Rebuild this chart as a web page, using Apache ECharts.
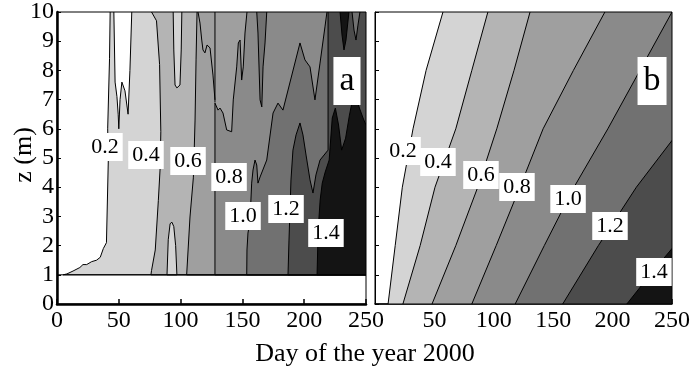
<!DOCTYPE html>
<html>
<head>
<meta charset="utf-8">
<script src="https://cdn.jsdelivr.net/npm/echarts@6.0.0/dist/echarts.min.js"></script>
<style>
  html, body { margin: 0; padding: 0; background: #fff; }
  #chart { width: 698px; height: 368px; }
</style>
</head>
<body>
<div id="chart"></div>
<script>
// Contour levels and their fill shades (value >= level gets the shade)
const LEVELS = [0.2, 0.4, 0.6, 0.8, 1.0, 1.2, 1.4];
const SHADES = ['#d4d4d4', '#b4b4b4', '#9f9f9f', '#8a8a8a', '#717171', '#4c4c4c', '#141414'];

// Panel a: measured field, contour lines as [day, z] from top (z = 10) down to z = 1
const A_C02 = [[43,10],[42.5,8.4],[41,6],[41.5,4.9],[40,2.1],[37.5,1.9],[35,1.6],[32,1.5],[28,1.45],[24,1.35],[21,1.35],[18.5,1.25],[13,1.13],[8,1.03],[5,1]];
const A_C04 = [[76.5,10],[80.5,9.7],[83,8.2],[84,5.9],[83.5,4.7],[82,3.55],[79.5,1.85],[76.5,1.15],[76,1]];
const A_C06 = [[113.3,10],[112.5,8.36],[111.7,6.3],[110.8,4.93],[110.3,4.32],[107.6,2.98],[104.9,1]];
const A_C08 = [[153.7,10],[152.1,9.28],[150.7,8.12],[149.4,7.67],[148.1,9.04],[146.7,8.94],[145.4,8.12],[142.6,6.99],[141.3,5.9],[137.3,5.96],[134.3,6.54],[131.9,6.71],[130.3,6.64],[127.8,6.88],[127.8,1]];
const A_C10 = [[218.4,10],[216.8,9.49],[212.8,8.25],[208.7,6.99],[204.7,8.12],[200.6,8.36],[196.6,8.94],[182.8,6.64],[178.8,6.88],[174.8,6.54],[169.7,4.93],[164.3,4.35],[162.6,4.14],[161.6,4.76],[160.2,4.93],[158.6,4.59],[157.5,4.14],[156.1,2.81],[154.5,2.43],[153.7,1.85],[153.5,1]];
const A_C12 = [[219.3,10],[219.3,5.27],[212.8,4.93],[209.5,4.42],[207.1,3.8],[204.7,4.25],[201.5,5.1],[199,5.79],[196.6,6.2],[193.4,5.79],[190.9,5.27],[189.3,4.25],[188.5,3.22],[187.7,2.19],[186.9,1]];
const A_C14 = [[250,6.13],[247.6,6.37],[244.7,6.71],[241.5,7.09],[239.1,6.99],[236.6,6.47],[233.5,5.68],[230.3,5.27],[227.8,6.13],[225.2,6.71],[222.7,6.37],[220.2,4.93],[217,4.52],[214.6,4.14],[212.9,3.56],[211.3,2.53],[210.4,1]];

// Panel a: closed pockets that differ from the band around them
const A_POCKETS = [
  { after: 0, shade: '#ffffff', pts: [[46,10],[47,7.6],[48.5,7.1],[49.5,6.5],[50,6],[51,7],[52.5,7.6],[55,7.3],[57.5,6.5],[59,8],[60.5,10]] },
  { after: 1, shade: SHADES[0], pts: [[94,10],[94.5,8.7],[95.5,7.5],[97,7.4],[99.5,7.5],[100.5,8.7],[101,10]] },
  { after: 1, shade: SHADES[0], pts: [[89,1],[90,2.2],[91.5,2.75],[93,2.8],[94.5,2.65],[96,2],[97,1]] },
  { after: 4, shade: SHADES[4], pts: [[161.6,10],[162.6,9.28],[164.3,6.99],[165.7,6.75],[166.7,8.12],[168.3,8.94],[169.7,10]] },
  { after: 5, shade: SHADES[4], pts: [[238.7,10],[240.3,9.38],[241.9,9.04],[243.5,9.55],[245.1,10]] },
  { after: 6, shade: SHADES[6], pts: [[229,10],[230.6,9.21],[232.2,8.7],[233.8,9.04],[236.2,10]] }
];
// Panel a: open contour strokes in the upper field
const A_STROKES = [
  [[114.1,10],[115.7,9.62],[117.1,9.04],[118.1,8.7],[119.7,8.6],[121.4,8.87],[123.8,8.77],[126.2,7.84],[127.8,6.99]],
  [[127.8,10],[127.8,6.9]]
];

// Panel b: modelled field, contour lines as [day, z]
const B_C02 = [[57.2,10],[43,8],[32,6],[23,4],[17,2],[11,0]];
const B_C04 = [[95,10],[81.5,8],[68,6],[50.5,4],[38,2],[23.5,0]];
const B_C06 = [[130.5,10],[117,8],[102.5,6],[86.5,4],[68,2],[48,0]];
const B_C08 = [[193.5,10],[167,8],[141.5,6],[122,4],[102,2],[81.5,0]];
const B_C10 = [[250,10],[223,8],[196,6],[167.5,4],[142.5,2],[118,0]];
const B_C12 = [[250,5.6],[220,4],[188,2],[158,0]];
const B_C14 = [[250,1.9],[231.5,1],[212,0]];

// Contour label anchors [day, z], one per level
const A_LABEL_POS = [[38.8,5.38],[72,5.1],[106,4.9],[139.2,4.35],[150.5,3.01],[185.3,3.25],[217.6,2.43]];
const B_LABEL_POS = [[23.6,5.24],[53,4.86],[89.2,4.42],[119.5,4.01],[162.5,3.6],[197.8,2.67],[234.8,1.1]];
const PANEL_TAGS = [{ text: 'a', pos: [234.6,7.64] }, { text: 'b', pos: [233.2,7.64] }];

const X_MAX = 250;
const SERIF = '"Liberation Serif", "DejaVu Serif", serif';

function polygonSeries(grid, pts, fill) {
  return {
    type: 'custom',
    coordinateSystem: 'cartesian2d',
    xAxisIndex: grid, yAxisIndex: grid,
    data: pts,
    encode: { x: 0, y: 1 },
    clip: true,
    silent: true,
    animation: false,
    renderItem: function (params, api) {
      if (params.dataIndex !== 0) return null;
      return {
        type: 'polygon',
        shape: { points: pts.map(function (p) { return api.coord(p); }) },
        style: { fill: fill, stroke: '#000', lineWidth: 1 }
      };
    }
  };
}

// Region at or above a level: contour line closed round the right-hand side of the panel
function bandSeries(grid, line, zBottom, fill) {
  const pts = line.concat([[X_MAX, zBottom]]);
  if (line[0][1] === 10) pts.push([X_MAX, 10]);
  return polygonSeries(grid, pts, fill);
}

function strokeSeries(grid, pts) {
  return {
    type: 'line', xAxisIndex: grid, yAxisIndex: grid, data: pts,
    showSymbol: false, silent: true, animation: false,
    lineStyle: { color: '#000', width: 1 }
  };
}

// White-boxed text placed at data coordinates
function labelSeries(grid, data, fontSize, padding) {
  return {
    type: 'custom',
    coordinateSystem: 'cartesian2d',
    xAxisIndex: grid, yAxisIndex: grid,
    data: data,
    encode: { x: 0, y: 1 },
    silent: true, animation: false, z: 10,
    renderItem: function (params, api) {
      const d = data[params.dataIndex];
      const c = api.coord([d[0], d[1]]);
      return {
        type: 'text', x: c[0], y: c[1],
        style: {
          text: d[2], fill: '#000', font: fontSize + 'px ' + SERIF,
          align: 'center', verticalAlign: 'middle',
          lineHeight: fontSize, backgroundColor: '#fff', padding: padding
        }
      };
    }
  };
}

const series = [];
const A_LINES = [A_C02, A_C04, A_C06, A_C08, A_C10, A_C12, A_C14];
const B_LINES = [B_C02, B_C04, B_C06, B_C08, B_C10, B_C12, B_C14];

// panel a bands, each followed by the pockets that sit inside it
A_LINES.forEach(function (line, i) {
  series.push(bandSeries(0, line, 1, SHADES[i]));
  A_POCKETS.filter(function (p) { return p.after === i; })
    .forEach(function (p) { series.push(polygonSeries(0, p.pts, p.shade)); });
});
A_STROKES.forEach(function (s) { series.push(strokeSeries(0, s)); });
// lower boundary of the measured field
series.push(strokeSeries(0, [[0, 1], [X_MAX, 1]]));

B_LINES.forEach(function (line, i) { series.push(bandSeries(1, line, 0, SHADES[i])); });

series.push(labelSeries(0, A_LABEL_POS.map(function (p, i) { return [p[0], p[1], LEVELS[i].toFixed(1)]; }), 22, [3, 4, 3, 4]));
series.push(labelSeries(1, B_LABEL_POS.map(function (p, i) { return [p[0], p[1], LEVELS[i].toFixed(1)]; }), 22, [3, 4, 3, 4]));
series.push(labelSeries(0, [[PANEL_TAGS[0].pos[0], PANEL_TAGS[0].pos[1], PANEL_TAGS[0].text]], 34, [7, 6, 7, 6]));
series.push(labelSeries(1, [[PANEL_TAGS[1].pos[0], PANEL_TAGS[1].pos[1], PANEL_TAGS[1].text]], 34, [7, 6, 7, 6]));

function xAxis(grid, thick, showMin) {
  return {
    type: 'value', gridIndex: grid, min: 0, max: X_MAX, interval: 50,
    axisLine: { show: true, onZero: false, lineStyle: { color: '#000', width: thick } },
    axisTick: { show: true, inside: true, length: 5, lineStyle: { color: '#000', width: 1.5 } },
    axisLabel: { show: true, color: '#000', fontFamily: SERIF, fontSize: 24, margin: 5, showMinLabel: showMin, showMaxLabel: true },
    splitLine: { show: false }
  };
}
function yAxis(grid, thick, labels) {
  return {
    type: 'value', gridIndex: grid, min: 0, max: 10, interval: 1,
    axisLine: { show: true, onZero: false, lineStyle: { color: '#000', width: thick } },
    axisTick: { show: true, inside: true, length: 4, lineStyle: { color: '#000', width: 1 } },
    axisLabel: { show: labels, color: '#000', fontFamily: SERIF, fontSize: 24, margin: 3 },
    splitLine: { show: false }
  };
}

const chart = echarts.init(document.getElementById('chart'), null, { renderer: 'canvas' });
chart.setOption({
  backgroundColor: '#fff',
  animation: false,
  grid: [
    { left: 57, top: 12, width: 309, height: 292, show: true, borderColor: '#000', borderWidth: 1, backgroundColor: '#fff', outerBoundsMode: 'none' },
    { left: 375, top: 12, width: 297, height: 292, show: true, borderColor: '#000', borderWidth: 1, backgroundColor: '#fff', outerBoundsMode: 'none' }
  ],
  xAxis: [xAxis(0, 2.5, true), xAxis(1, 1.5, false)],
  yAxis: [yAxis(0, 2.5, true), yAxis(1, 1, false)],
  series: series,
  graphic: [
    { type: 'text', x: 365, y: 354, style: { text: 'Day of the year 2000', fill: '#000', font: '26px ' + SERIF, align: 'center', verticalAlign: 'middle' } },
    { type: 'text', x: 24, y: 155, rotation: Math.PI / 2, style: { text: 'z (m)', fill: '#000', font: '26px ' + SERIF, align: 'center', verticalAlign: 'middle' } }
  ]
});
</script>
</body>
</html>
